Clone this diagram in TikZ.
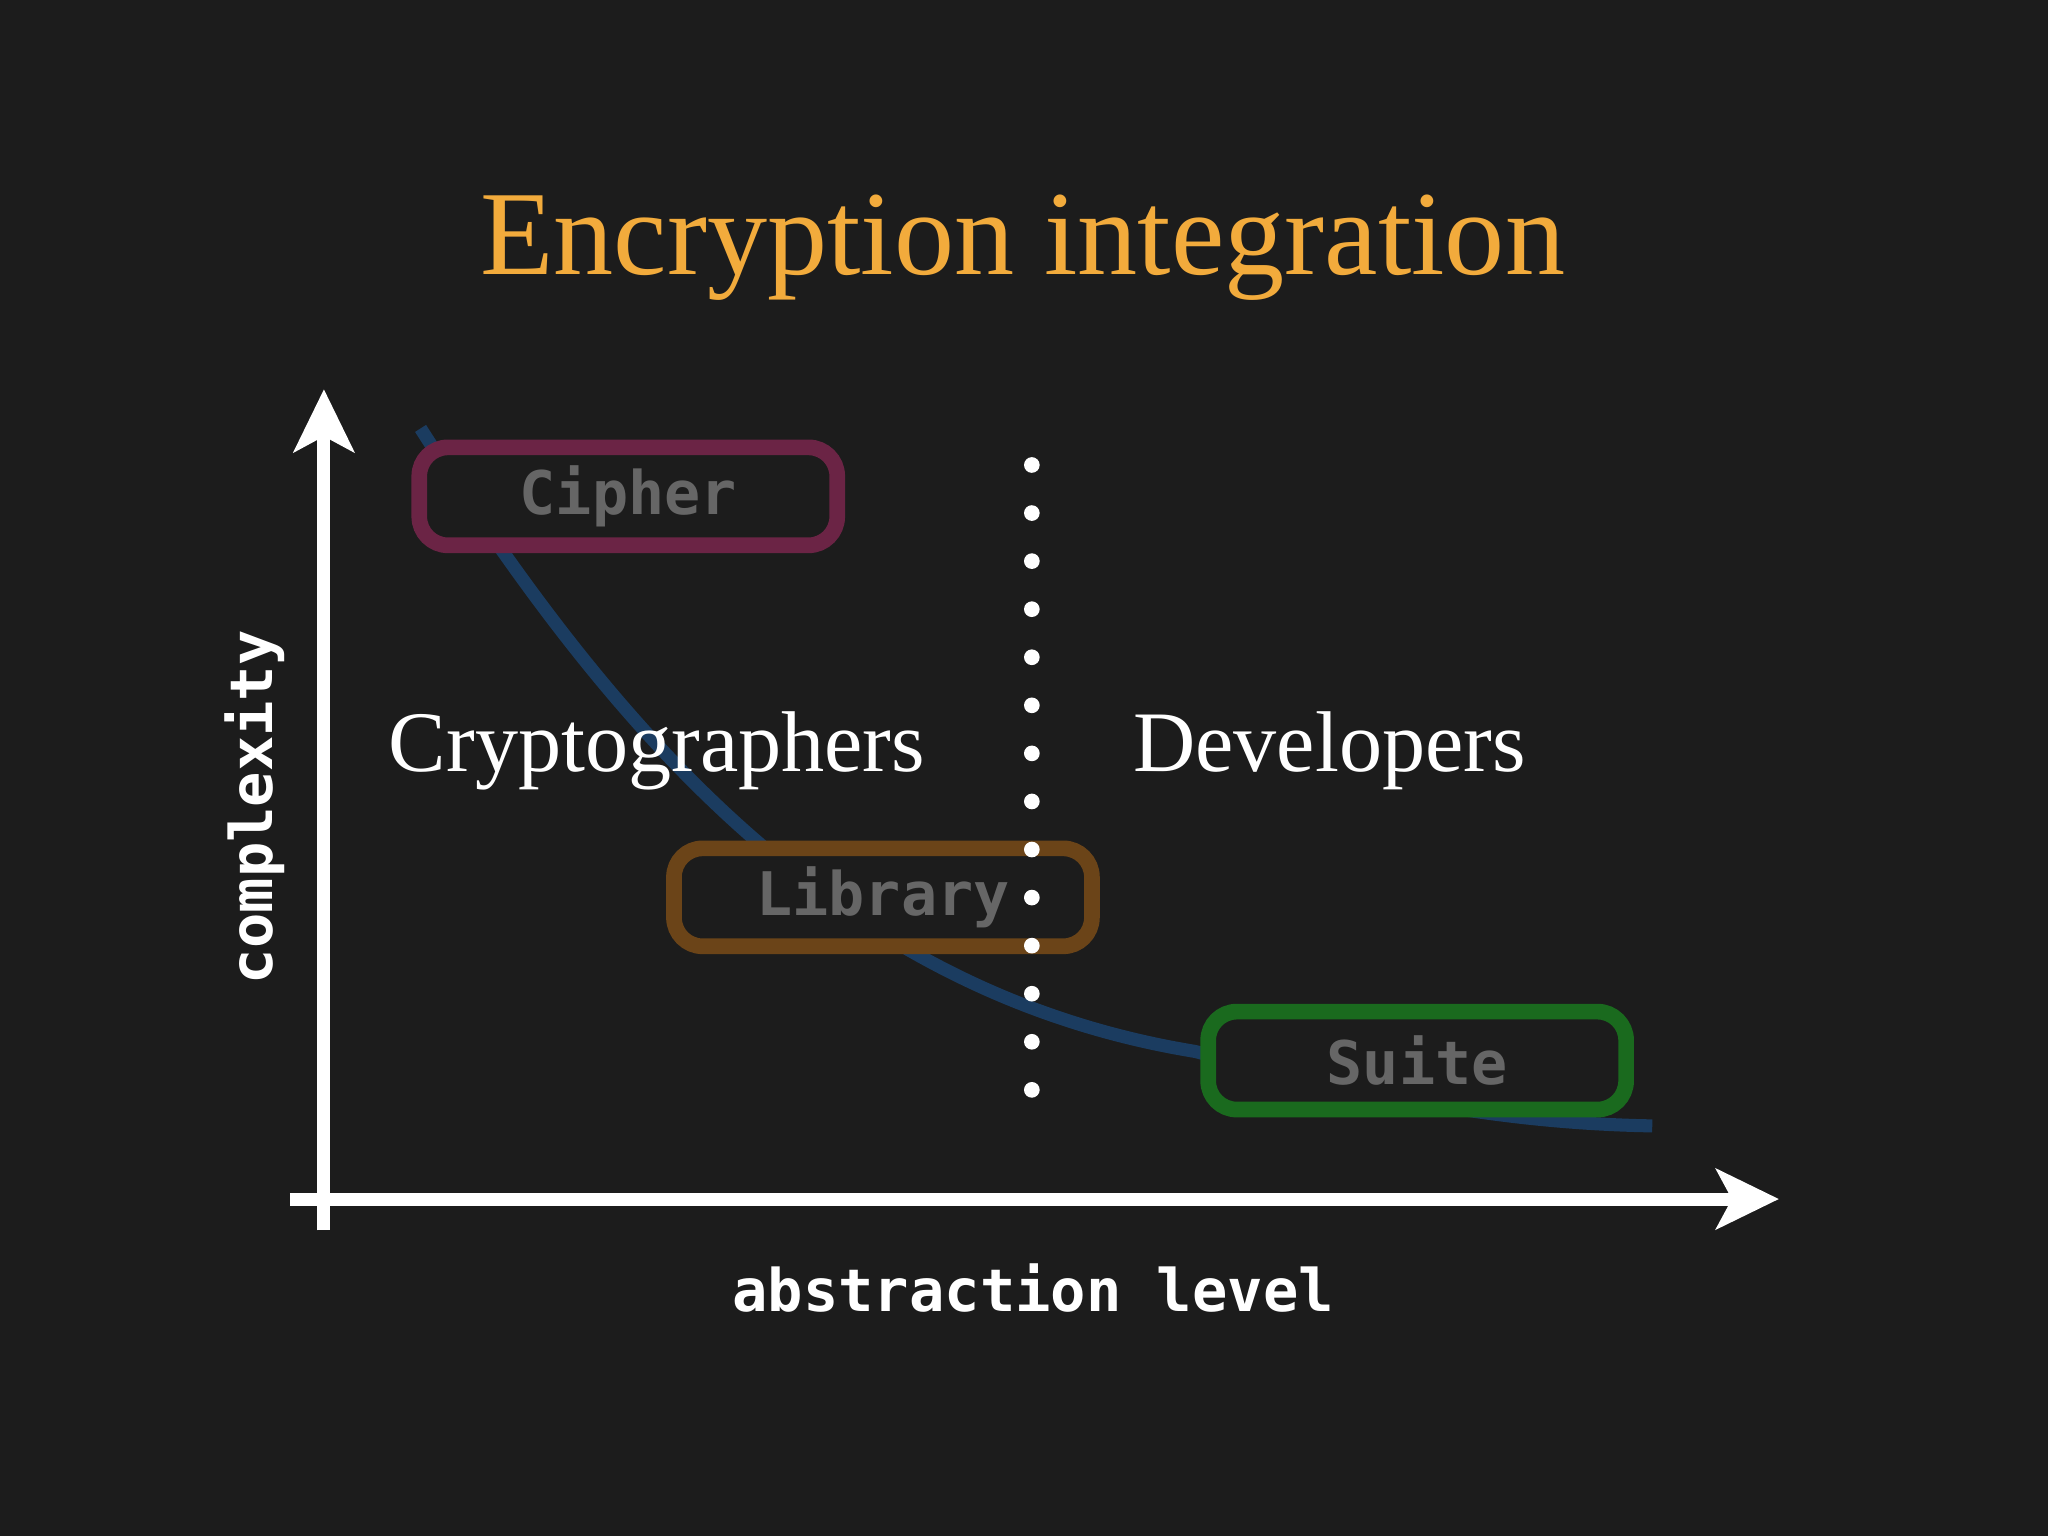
\documentclass[tikz,border=0pt]{standalone}
\usepackage{fontspec}
\setmainfont{Liberation Serif}
\newfontfamily\monob{DejaVu Sans Mono}
\usetikzlibrary{arrows.meta}
\definecolor{bg}{HTML}{1C1C1C}
\definecolor{ttl}{HTML}{F2AB3C}
\definecolor{crv}{HTML}{1B3C60}
\definecolor{cph}{HTML}{6B2445}
\definecolor{lib}{HTML}{6B4418}
\definecolor{sut}{HTML}{1A6A1E}
\definecolor{gtx}{HTML}{666666}
\tikzset{
 box/.style={draw=#1,line width=12pt,rounded corners=22pt,fill=bg,minimum width=320pt,minimum height=75pt,
   font=\monob\bfseries\fontsize{46}{50}\selectfont,text=gtx},
 axis/.style={white,line width=10pt,-{Stealth[length=48pt,width=46pt,inset=12pt]}},
 lab/.style={white,font=\monob\bfseries\fontsize{45}{50}\selectfont},
 big/.style={white,font=\fontsize{66}{70}\selectfont},
 dot/.style={circle,fill=white,inner sep=0pt,minimum size=12pt}
}
\begin{document}
\begin{tikzpicture}[x=1pt,y=-1pt]
\fill[bg] (0,0) rectangle (1568,1176);
\useasboundingbox (0,0) rectangle (1568,1176);
\node[ttl,font=\fontsize{92}{96}\selectfont] (title) at (783,190) {Encryption integration};
\coordinate (o) at (248,918);
\coordinate (ylow) at (248,942);
\coordinate (xlow) at (222,918);
\coordinate (ytip) at (248,298);
\coordinate (xtip) at (1362,918);
\draw[axis] (ylow) -- (ytip);
\draw[axis] (xlow) -- (xtip);
\draw[crv,line width=10pt] (322,328) .. controls (470,560) and (640,760) .. (915,805) .. controls (1050,840) and (1150,860) .. (1265,862);
\node[box=cph] (cipher) at (481,380) {Cipher};
\node[box=lib] (library) at (676,687) {Library};
\node[box=sut] (suite) at (1085,812) {Suite};
\foreach \i in {0,...,13}{\node[dot] (d\i) at (790,{356+\i*36.8}) {};}
\node[big] (crypt) at (503,575) {Cryptographers};
\node[big] (dev) at (1018,575) {Developers};
\node[lab] (xl) at (791,986) {abstraction level};
\node[lab,rotate=90] (yl) at (195,618) {complexity};
\end{tikzpicture}
\end{document}
